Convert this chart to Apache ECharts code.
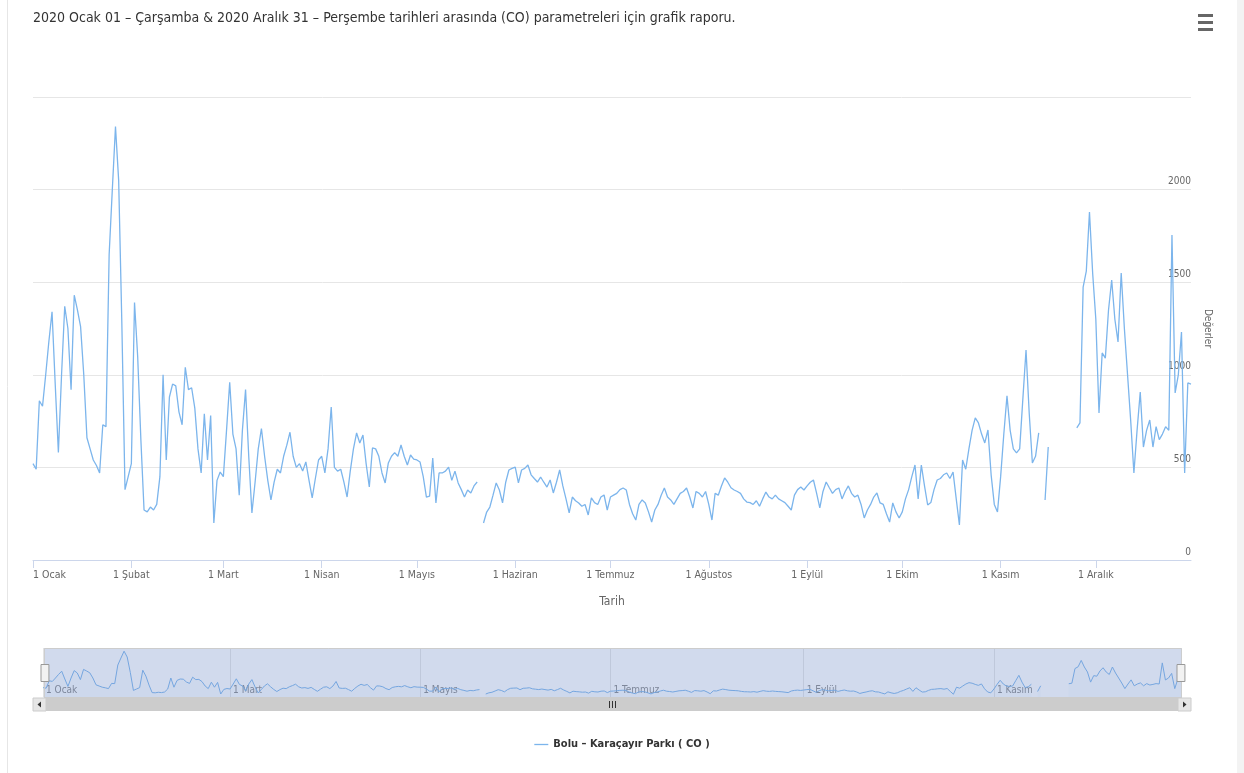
<!DOCTYPE html>
<html><head><meta charset="utf-8">
<script src="https://cdn.jsdelivr.net/npm/echarts@6.0.0/dist/echarts.min.js"></script>
<style>html,body{margin:0;padding:0;background:#fff}#c{width:1244px;height:773px}</style>
</head><body><div id="c"></div>
<script>
const titleText = '2020 Ocak 01 – Çarşamba & 2020 Aralık 31 – Perşembe tarihleri arasında (CO) parametreleri için grafik raporu.';
const seriesName = 'Bolu – Karaçayır Parkı ( CO )';
const monthNames = ['Ocak','Şubat','Mart','Nisan','Mayıs','Haziran','Temmuz','Ağustos','Eylül','Ekim','Kasım','Aralık'];
const navLabelMonths = ['Ocak','Mart','Mayıs','Temmuz','Eylül','Kasım'];
const yTicks = [0, 500, 1000, 1500, 2000, 2500];

const jan = [520,490,860,830,1000,1180,1340,950,580,1000,1370,1250,920,1430,1350,1260,1000,660,600,540,510,470,730,720,1650,2000,2340,2050,1280,380,450];
const feb = [520,1390,1096,650,270,260,286,270,300,450,1000,540,880,950,940,800,730,1040,920,930,820,600,470,790,540,780,200,430,475];
const mar = [450,700,960,680,600,350,700,920,560,254,420,600,710,560,430,324,420,490,470,560,620,690,560,500,520,480,530,430,335,440,540];
const apr = [560,470,600,826,500,480,490,420,340,480,600,686,632,675,520,394,605,600,560,470,416,524,560,580,560,621,560,513,567,545];
const may = [540,529,450,340,345,551,308,470,470,480,502,430,480,416,380,340,378,362,400,421,null,200,259,286,350,416,378,308,420,486,495];
const jun = [502,416,486,495,513,460,440,421,448,420,394,432,362,420,486,400,330,254,340,320,308,290,300,243,335,310,300,340,351,270];
const jul = [340,350,360,380,389,378,300,250,216,300,324,308,260,205,270,300,350,389,340,324,300,330,360,370,389,340,281,370,360,340,370];
const aug = [300,216,360,350,400,443,420,390,378,370,360,330,313,310,300,320,290,330,367,340,330,350,330,320,310,290,270,350,380,394,378];
const sep = [400,420,432,360,281,370,421,390,360,380,389,330,370,400,360,340,350,300,227,270,300,340,362,308,300,250,205,308,260,227];
const oct = [260,330,380,450,513,330,513,400,297,310,380,432,440,460,470,440,475,330,189,540,490,600,700,767,740,680,632,702,460,300,259];
const nov = [450,680,886,700,600,578,600,870,1134,794,524,560,686,null,324,610,null,null,null,null,null,null,null,null,713,740,1474,1560,1879,1550];
const dec = [1300,794,1118,1090,1350,1512,1300,1177,1550,1250,1000,750,470,700,907,610,700,756,610,720,650,680,720,700,1755,902,1000,1231,470,956,950];

const months = [jan,feb,mar,apr,may,jun,jul,aug,sep,oct,nov,dec];
const categories = [];
const values = [];
months.forEach((arr, m) => arr.forEach((v, d) => { categories.push((d + 1) + ' ' + monthNames[m]); values.push(v); }));

const FONT = '"Liberation Sans Narrow","DejaVu Sans Condensed","Open Sans",sans-serif';
const isMonthStart = (i, v) => v.indexOf('1 ') === 0;
const isNavTick = (i, v) => v.indexOf('1 ') === 0 && navLabelMonths.indexOf(v.slice(2)) >= 0;

const chart = echarts.init(document.getElementById('c'), null, {renderer: 'canvas'});
chart.setOption({
  animation: false,
  backgroundColor: '#ffffff',
  title: {
    text: titleText, left: 28, top: 6,
    textStyle: {fontSize: 14, fontWeight: 'normal', color: '#333333', fontFamily: FONT}
  },
  legend: {
    data: [seriesName], left: 'center', top: 734,
    icon: 'path://M0,0 L16,0 L16,1.5 L0,1.5 Z', itemWidth: 14, itemHeight: 2, itemGap: 6,
    textStyle: {fontSize: 11, fontWeight: 'bold', color: '#333333', fontFamily: FONT}
  },
  grid: [
    {left: 33, right: 53, top: 97, bottom: 213, outerBoundsMode: 'none'},
    {left: 43, right: 63, top: 648, height: 50, outerBoundsMode: 'none'}
  ],
  xAxis: [
    {
      type: 'category', gridIndex: 0, data: categories, boundaryGap: false,
      axisLine: {lineStyle: {color: '#ccd6eb'}},
      axisTick: {interval: isMonthStart, length: 8, lineStyle: {color: '#ccd6eb'}},
      axisLabel: {interval: isMonthStart, color: '#666666', fontSize: 10.5, margin: 10, fontFamily: FONT, alignMinLabel: 'left'},
      splitLine: {show: false},
      name: 'Tarih', nameLocation: 'middle', nameGap: 36,
      nameTextStyle: {color: '#666666', fontSize: 12, fontFamily: FONT}
    },
    {
      type: 'category', gridIndex: 1, data: categories, boundaryGap: false,
      axisLine: {show: false}, axisTick: {show: false},
      axisLabel: {interval: isNavTick, inside: true, align: 'left', padding: [0, 0, 0, 3], margin: 3,
        color: '#888888', fontSize: 10, fontFamily: FONT},
      splitLine: {show: true, interval: isNavTick, lineStyle: {color: '#e6e6e6'}}
    }
  ],
  yAxis: [
    {
      type: 'value', gridIndex: 0, position: 'right', min: yTicks[0], max: yTicks[yTicks.length - 1], interval: 500,
      axisLine: {show: false}, axisTick: {show: false},
      splitLine: {lineStyle: {color: '#e6e6e6'}},
      axisLabel: {inside: true, margin: 0, color: '#666666', fontSize: 10, fontFamily: FONT,
        verticalAlign: 'bottom', padding: [0, 0, 3, 0], showMaxLabel: false,
        formatter: v => String(v)},
      name: 'Değerler', nameLocation: 'middle', nameRotate: -90, nameGap: 12,
      nameTextStyle: {color: '#666666', fontSize: 10, fontFamily: FONT}
    },
    {
      type: 'value', gridIndex: 1, min: 0, max: 2500, show: false
    }
  ],
  dataZoom: [{
    type: 'slider', xAxisIndex: 0, start: 0, end: 100,
    left: 43, right: 63, top: 648, height: 50,
    showDataShadow: false, showDetail: false, brushSelect: false,
    moveHandleSize: 0,
    backgroundColor: 'rgba(0,0,0,0)', fillerColor: 'rgba(102,133,194,0.3)', borderColor: '#cccccc',
    handleIcon: 'path://M0,0 L7,0 L7,15 L0,15 Z',
    handleSize: '34%',
    handleStyle: {color: '#f2f2f2', borderColor: '#999999', borderWidth: 1},
    emphasis: {handleStyle: {color: '#f2f2f2', borderColor: '#999999'}}
  }],
  series: [
    {
      name: seriesName, type: 'line', xAxisIndex: 0, yAxisIndex: 0, data: values,
      symbol: 'none', connectNulls: false,
      lineStyle: {color: '#7cb5ec', width: 1.3}, itemStyle: {color: '#7cb5ec'}
    },
    {
      name: 'navigator', type: 'line', xAxisIndex: 1, yAxisIndex: 1, data: values,
      symbol: 'none', connectNulls: false, silent: true,
      lineStyle: {color: '#7cb5ec', width: 1}, areaStyle: {color: 'rgba(124,181,236,0.05)'}
    }
  ],
  graphic: [
    {type: 'line', shape: {x1: 7.5, y1: 0, x2: 7.5, y2: 773}, style: {stroke: '#e6e6e6', lineWidth: 1}},
    {type: 'rect', shape: {x: 1237, y: 0, width: 7, height: 773}, style: {fill: '#f3f3f3'}},
    {type: 'rect', shape: {x: 1198, y: 14, width: 15, height: 3}, style: {fill: '#666666'}},
    {type: 'rect', shape: {x: 1198, y: 21, width: 15, height: 3}, style: {fill: '#666666'}},
    {type: 'rect', shape: {x: 1198, y: 28, width: 15, height: 3}, style: {fill: '#666666'}},
    {type: 'rect', shape: {x: 33, y: 698, width: 1158, height: 13}, style: {fill: '#cccccc'}},
    {type: 'rect', shape: {x: 33, y: 698, width: 13, height: 13}, style: {fill: '#e6e6e6', stroke: '#cccccc'}},
    {type: 'rect', shape: {x: 1178, y: 698, width: 13, height: 13}, style: {fill: '#e6e6e6', stroke: '#cccccc'}},
    {type: 'polygon', shape: {points: [[41, 701.5], [41, 707.5], [37.5, 704.5]]}, style: {fill: '#333333'}},
    {type: 'polygon', shape: {points: [[1183, 701.5], [1183, 707.5], [1186.5, 704.5]]}, style: {fill: '#333333'}},
    {type: 'line', shape: {x1: 609.5, y1: 701, x2: 609.5, y2: 708}, style: {stroke: '#333333', lineWidth: 1}},
    {type: 'line', shape: {x1: 612.5, y1: 701, x2: 612.5, y2: 708}, style: {stroke: '#333333', lineWidth: 1}},
    {type: 'line', shape: {x1: 615.5, y1: 701, x2: 615.5, y2: 708}, style: {stroke: '#333333', lineWidth: 1}}
  ]
});
</script>
</body></html>
